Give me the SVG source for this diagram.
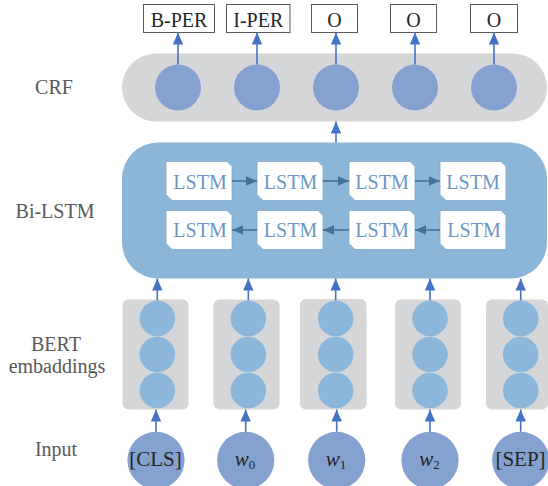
<svg xmlns="http://www.w3.org/2000/svg" width="548" height="486" viewBox="0 0 548 486">
<style>
.tagbox{fill:#fff;stroke:#595959;stroke-width:1}
.crfc{fill:#84a1cf}
.inc{fill:#84a1cf}
.grey{fill:#d5d6d8}
.up{stroke:#4472c4;stroke-width:1.6;fill:none;marker-end:url(#ah)}
.lr{stroke:#46719a;stroke-width:1.6;fill:none;marker-end:url(#ah2)}
</style>
<defs>
<marker id="ah" markerUnits="userSpaceOnUse" markerWidth="12" markerHeight="12" viewBox="0 0 12 12" refX="12" refY="6" orient="auto">
<path d="M0,0.8 L12,6 L0,11.2 Z" fill="#4472c4"/>
</marker>
<marker id="ah2" markerUnits="userSpaceOnUse" markerWidth="11" markerHeight="11" viewBox="0 0 11 11" refX="11" refY="5.5" orient="auto">
<path d="M0,0.8 L11,5.5 L0,10.2 Z" fill="#46719a"/>
</marker>
<path id="lstm" d="M0,0 L61,0 L66,5 L66,39 L6,39 L0,33 Z" fill="#fff" stroke="#7fa6cd" stroke-width="0.8"/>
<circle id="bc" r="17.8" fill="#8cb7da"/>
</defs>

<!-- left labels -->
<g id="labels" font-family="Times New Roman, Liberation Serif, serif" font-size="20" fill="#595959" text-anchor="middle">
<text x="54" y="94">CRF</text>
<text x="55" y="218">Bi-LSTM</text>
<text x="56" y="351">BERT</text>
<text x="57" y="373">embaddings</text>
<text x="56" y="456">Input</text>
</g>

<!-- output tags -->
<g font-family="Times New Roman, Liberation Serif, serif" font-size="20" fill="#262626" text-anchor="middle">
<g id="tag-bper"><rect class="tagbox" x="143.5" y="4.5" width="71" height="28"/><text x="179" y="26.5">B-PER</text></g>
<g id="tag-iper"><rect class="tagbox" x="226.5" y="4.5" width="63.5" height="28"/><text x="258.3" y="26.5">I-PER</text></g>
<g id="tag-o1"><rect class="tagbox" x="311.5" y="4.5" width="46" height="28"/><text x="334.5" y="26.5">O</text></g>
<g id="tag-o2"><rect class="tagbox" x="390.5" y="4.5" width="46" height="28"/><text x="413.5" y="26.5">O</text></g>
<g id="tag-o3"><rect class="tagbox" x="470.5" y="4.5" width="47" height="28"/><text x="494" y="26.5">O</text></g>
</g>

<!-- CRF layer -->
<g id="crf">
<rect class="grey" x="122" y="53.5" width="425" height="68" rx="34"/>
<circle class="crfc" cx="178" cy="87.5" r="23"/>
<circle class="crfc" cx="257" cy="87.5" r="23"/>
<circle class="crfc" cx="336" cy="87.5" r="23"/>
<circle class="crfc" cx="415" cy="87.5" r="23"/>
<circle class="crfc" cx="494" cy="87.5" r="23"/>
</g>

<!-- Bi-LSTM layer -->
<g id="bilstm" font-family="Times New Roman, Liberation Serif, serif" font-size="20" fill="#6a97c5" text-anchor="middle">
<rect x="122" y="142.5" width="425" height="136" rx="36" fill="#8cb6d8"/>
<g id="lstm-f1"><use href="#lstm" x="166" y="161.5"/><text x="200" y="188.5">LSTM</text></g>
<g id="lstm-f2"><use href="#lstm" x="257" y="161.5"/><text x="290.5" y="188.5">LSTM</text></g>
<g id="lstm-f3"><use href="#lstm" x="349" y="161.5"/><text x="382" y="188.5">LSTM</text></g>
<g id="lstm-f4"><use href="#lstm" x="440" y="161.5"/><text x="473" y="188.5">LSTM</text></g>
<g id="lstm-b1"><use href="#lstm" x="166" y="210.5"/><text x="200" y="237">LSTM</text></g>
<g id="lstm-b2"><use href="#lstm" x="257" y="210.5"/><text x="290.5" y="237">LSTM</text></g>
<g id="lstm-b3"><use href="#lstm" x="349" y="210.5"/><text x="382" y="237">LSTM</text></g>
<g id="lstm-b4"><use href="#lstm" x="440" y="210.5"/><text x="474" y="237">LSTM</text></g>
</g>

<!-- BERT embeddings -->
<g id="bert1"><rect class="grey" x="122.5" y="299.5" width="66" height="110" rx="6"/><use href="#bc" x="157.3" y="318.5"/><use href="#bc" x="157.3" y="354.5"/><use href="#bc" x="157.3" y="390.5"/></g>
<g id="bert2"><rect class="grey" x="213.5" y="299.5" width="66" height="110" rx="6"/><use href="#bc" x="248.3" y="318.5"/><use href="#bc" x="248.3" y="354.5"/><use href="#bc" x="248.3" y="390.5"/></g>
<g id="bert3"><rect class="grey" x="300" y="299" width="66.5" height="110.5" rx="6"/><use href="#bc" x="335.7" y="318.5"/><use href="#bc" x="335.7" y="354.5"/><use href="#bc" x="335.7" y="390.5"/></g>
<g id="bert4"><rect class="grey" x="395" y="299.5" width="66" height="110" rx="6"/><use href="#bc" x="430" y="318.5"/><use href="#bc" x="430" y="354.5"/><use href="#bc" x="430" y="390.5"/></g>
<g id="bert5"><rect class="grey" x="486" y="299.5" width="62" height="110" rx="6"/><use href="#bc" x="520.7" y="318.5"/><use href="#bc" x="520.7" y="354.5"/><use href="#bc" x="520.7" y="390.5"/></g>

<!-- inputs -->
<g font-family="Times New Roman, Liberation Serif, serif" font-size="21" text-anchor="middle" fill="#262626">
<g id="in-cls"><circle class="inc" cx="156" cy="460.3" r="28.6"/><text x="155.5" y="466">[CLS]</text></g>
<g id="in-w0"><circle class="inc" cx="245.7" cy="460.3" r="28.6"/><text x="245" y="466"><tspan font-style="italic">w</tspan><tspan font-size="13" dy="3">0</tspan></text></g>
<g id="in-w1"><circle class="inc" cx="336.7" cy="460.3" r="28.6"/><text x="336" y="466"><tspan font-style="italic">w</tspan><tspan font-size="13" dy="3">1</tspan></text></g>
<g id="in-w2"><circle class="inc" cx="430" cy="460.3" r="28.6"/><text x="429.5" y="466"><tspan font-style="italic">w</tspan><tspan font-size="13" dy="3">2</tspan></text></g>
<g id="in-sep"><circle class="inc" cx="520.7" cy="460.3" r="28.6"/><text x="520.5" y="466">[SEP]</text></g>
</g>

<!-- connectors -->
<g id="connectors">
<line class="up" x1="178" y1="64.5" x2="178" y2="32.5"/>
<line class="up" x1="257" y1="64.5" x2="257" y2="32.5"/>
<line class="up" x1="336" y1="64.5" x2="336" y2="32.5"/>
<line class="up" x1="415" y1="64.5" x2="415" y2="32.5"/>
<line class="up" x1="494" y1="64.5" x2="494" y2="32.5"/>
<line class="up" x1="336" y1="142.5" x2="336" y2="121.5"/>
<line class="lr" x1="232" y1="181" x2="257" y2="181"/>
<line class="lr" x1="323" y1="181" x2="349" y2="181"/>
<line class="lr" x1="415" y1="181" x2="440" y2="181"/>
<line class="lr" x1="440" y1="230" x2="415" y2="230"/>
<line class="lr" x1="349" y1="230" x2="323" y2="230"/>
<line class="lr" x1="257" y1="230" x2="232" y2="230"/>
<line class="up" x1="157.3" y1="300.5" x2="157.3" y2="278.5"/>
<line class="up" x1="248.3" y1="300.5" x2="248.3" y2="278.5"/>
<line class="up" x1="335.7" y1="300.5" x2="335.7" y2="278.5"/>
<line class="up" x1="430" y1="300.5" x2="430" y2="278.5"/>
<line class="up" x1="520.7" y1="300.5" x2="520.7" y2="278.5"/>
<line class="up" x1="156" y1="431.7" x2="156" y2="409.5"/>
<line class="up" x1="245.7" y1="431.7" x2="245.7" y2="409.5"/>
<line class="up" x1="336.7" y1="431.7" x2="336.7" y2="409.5"/>
<line class="up" x1="430" y1="431.7" x2="430" y2="409.5"/>
<line class="up" x1="520.7" y1="431.7" x2="520.7" y2="409.5"/>
</g>
</svg>
